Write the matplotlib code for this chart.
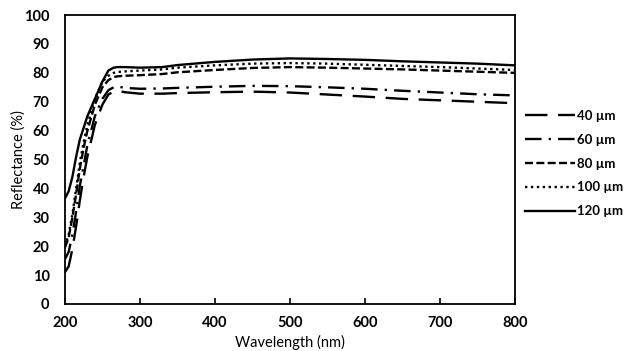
import matplotlib
matplotlib.use("Agg")
import matplotlib.pyplot as plt

plt.rcParams['font.family'] = ['Lato', 'DejaVu Sans']

# Wavelength grid (nm)
wavelength = [200, 205, 210, 215, 220, 225, 230, 240, 250, 258, 265, 270, 280, 300,
              330, 350, 400, 450, 500, 550, 600, 650, 700, 750, 800]

# Reflectance (%) for each coating thickness
r_40 = [11, 13, 19, 27, 36, 44, 51, 62, 69, 72.5, 73.5, 73.8, 73.3, 72.8,
        72.8, 73.0, 73.3, 73.5, 73.2, 72.5, 71.8, 71.0, 70.5, 70.0, 69.5]
r_60 = [15.5, 18, 24, 32, 41, 48, 55, 65, 71, 74, 75, 75.3, 74.8, 74.5,
        74.6, 74.8, 75.2, 75.5, 75.4, 75.0, 74.5, 73.8, 73.2, 72.6, 72.2]
r_80 = [19.5, 23, 30, 38, 47, 54, 60, 69, 75, 77.5, 78.5, 78.8, 79.0, 79.2,
        79.6, 80.2, 81.0, 81.7, 82.0, 81.8, 81.5, 81.2, 80.8, 80.4, 80.0]
r_100 = [20, 24, 31, 40, 49, 56, 62, 71, 77, 79, 80, 80.3, 80.5, 80.8,
         81.2, 81.8, 82.6, 83.2, 83.4, 83.2, 82.8, 82.4, 82.0, 81.5, 81.0]
r_120 = [36.5, 39, 44, 51, 57, 61, 65, 71, 77, 80.8, 81.8, 82.0, 82.0, 81.8,
         82.0, 82.7, 83.8, 84.6, 85.0, 84.8, 84.5, 84.0, 83.6, 83.2, 82.6]

labels = ['40 µm', '60 µm', '80 µm', '100 µm', '120 µm']
series = [r_40, r_60, r_80, r_100, r_120]
styles = [(0, (9.5, 4.5)), (0, (7, 3, 1, 3)), (0, (3.4, 1.4)), (0, (1, 1.5)), '-']

x_ticks = [200, 300, 400, 500, 600, 700, 800]
y_ticks = [0, 10, 20, 30, 40, 50, 60, 70, 80, 90, 100]

fig = plt.figure(figsize=(6.24, 3.51), dpi=100)
ax = fig.add_axes([0.104, 0.134, 0.721, 0.823])

for vals, lab, ls in zip(series, labels, styles):
    ax.plot(wavelength, vals, color='black', linestyle=ls, linewidth=1.7, label=lab)

ax.set_xlim(200, 800)
ax.set_ylim(0, 100)
ax.set_xticks(x_ticks)
ax.set_yticks(y_ticks)
ax.tick_params(axis='x', direction='in', length=4, width=1.2, pad=9)
ax.tick_params(axis='y', length=0, pad=11)
for lbl in ax.get_xticklabels() + ax.get_yticklabels():
    lbl.set_fontweight('bold')
    lbl.set_fontsize(10.5)
for sp in ax.spines.values():
    sp.set_linewidth(1.3)

ax.set_xlabel('Wavelength (nm)', fontsize=10.5, labelpad=3)
ax.set_ylabel('Reflectance (%)', fontsize=10.5, labelpad=-1)

leg = ax.legend(loc='center left', bbox_to_anchor=(1.0, 0.486), frameon=False,
                handlelength=3.8, handletextpad=0.15, labelspacing=0.9,
                borderaxespad=0.4, prop={'weight': 'bold', 'size': 9.5})

fig.savefig('out.png', dpi=100)
